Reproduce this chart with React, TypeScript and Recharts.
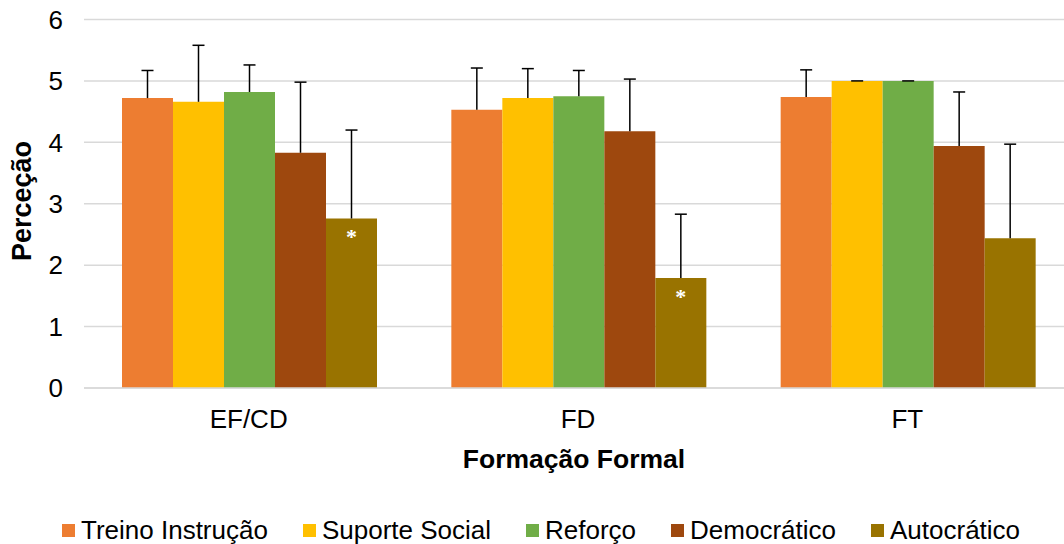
import { BarChart, Bar, XAxis, YAxis, CartesianGrid, Legend, LabelList, Label } from 'recharts'

// Perceção média (e desvio padrão) por estilo, segundo a formação formal
const categories = ['EF/CD', 'FD', 'FT']

const treinoInstrucao = [4.72, 4.53, 4.74]
const treinoInstrucaoDp = [0.45, 0.68, 0.44]
const suporteSocial = [4.66, 4.72, 5.0]
const suporteSocialDp = [0.92, 0.48, 0]
const reforco = [4.82, 4.75, 5.0]
const reforcoDp = [0.44, 0.42, 0]
const democratico = [3.83, 4.18, 3.94]
const democraticoDp = [1.15, 0.85, 0.88]
const autocratico = [2.76, 1.79, 2.44]
const autocraticoDp = [1.44, 1.04, 1.53]
// diferença significativa
const autocraticoSig = ['*', '*', '']

const yTicks = [0, 1, 2, 3, 4, 5, 6]

const FONT = '"Liberation Sans", Arial, sans-serif'

const series = [
  { key: 'treino', name: 'Treino Instrução', color: '#ED7D31', values: treinoInstrucao, dp: treinoInstrucaoDp },
  { key: 'suporte', name: 'Suporte Social', color: '#FFC000', values: suporteSocial, dp: suporteSocialDp },
  { key: 'reforco', name: 'Reforço', color: '#70AD47', values: reforco, dp: reforcoDp },
  { key: 'democratico', name: 'Democrático', color: '#9E480E', values: democratico, dp: democraticoDp },
  { key: 'autocratico', name: 'Autocrático', color: '#997300', values: autocratico, dp: autocraticoDp },
]

const chartData = categories.map((name, i) => {
  const row: Record<string, string | number> = { name }
  series.forEach(s => { row[s.key] = s.values[i] })
  return row
})

// barra de erro só para cima, com a escala tirada da própria barra
const errorBar = (dp: number[]) => (props: any) => {
  const { x, y, width, height, value, index } = props
  if (!value) return null
  const perUnit = height / value
  const cx = x + width / 2
  const top = y - dp[index] * perUnit
  return (
    <g>
      <line x1={cx} y1={y} x2={cx} y2={top} stroke="#000" strokeWidth={1.5} />
      <line x1={cx - 6} y1={top} x2={cx + 6} y2={top} stroke="#000" strokeWidth={1.5} />
    </g>
  )
}

const sigMark = (props: any) => {
  const { x, y, width, index } = props
  const mark = autocraticoSig[index]
  if (!mark) return null
  return (
    <text x={x + width / 2} y={y + 26} textAnchor="middle" fill="#fff"
      fontSize={22} fontWeight="bold" fontFamily='"Liberation Serif", serif'>
      {mark}
    </text>
  )
}

// legenda na ordem das séries
const LegendRow = () => (
  <div style={{ display: 'flex', alignItems: 'center', paddingLeft: 62, gap: 35, height: 38, fontFamily: FONT, fontSize: 26, color: '#000' }}>
    {series.map(s => (
      <div key={s.key} style={{ display: 'flex', alignItems: 'center', whiteSpace: 'nowrap' }}>
        <span style={{ width: 13, height: 13, background: s.color, marginRight: 6, display: 'inline-block' }} />
        <span>{s.name}</span>
      </div>
    ))}
  </div>
)

export default function App() {
  return (
    <div style={{ width: 1064, height: 544, overflow: 'hidden', position: 'relative', background: '#fff' }}>
      <style>{'body { margin: 0; }'}</style>
      <BarChart
        width={1072}
        height={544}
        data={chartData}
        margin={{ top: 19.5, right: 0, bottom: 0, left: 0 }}
        barGap={0}
        barCategoryGap={38}
        style={{ fontFamily: FONT }}
      >
        <CartesianGrid vertical={false} stroke="#d9d9d9" strokeWidth={1.5} />
        <XAxis
          dataKey="name"
          height={156}
          tick={{ fill: '#000', fontSize: 26 }}
          tickLine={false}
          tickSize={0}
          tickMargin={22}
          axisLine={{ stroke: '#d9d9d9', strokeWidth: 1.5 }}
        >
          <Label
            content={({ viewBox }: any) => (
              <text x={viewBox.x + viewBox.width / 2 - 4} y={468} textAnchor="middle"
                fontSize={26.5} fontWeight="bold" fill="#000" fontFamily={FONT}>
                Formação Formal
              </text>
            )}
          />
        </XAxis>
        <YAxis
          width={84}
          domain={[0, 6]}
          ticks={yTicks}
          interval={0}
          tick={{ fill: '#000', fontSize: 26 }}
          tickLine={false}
          tickSize={0}
          tickMargin={21}
          axisLine={false}
        >
          <Label
            content={() => (
              <text x={31} y={201} transform="rotate(-90 31 201)" textAnchor="middle"
                fontSize={27} fontWeight="bold" fill="#000" fontFamily={FONT}>
                Perceção
              </text>
            )}
          />
        </YAxis>
        <Legend
          verticalAlign="middle"
          align="center"
          layout="horizontal"
          wrapperStyle={{ top: 511, left: 0, width: 1064 }}
          content={<LegendRow />}
        />
        {series.map(s => (
          <Bar key={s.key} dataKey={s.key} name={s.name} fill={s.color} isAnimationActive={false}>
            <LabelList dataKey={s.key} content={errorBar(s.dp)} />
            {s.key === 'autocratico' && <LabelList dataKey={s.key} content={sigMark} />}
          </Bar>
        ))}
      </BarChart>
    </div>
  )
}
